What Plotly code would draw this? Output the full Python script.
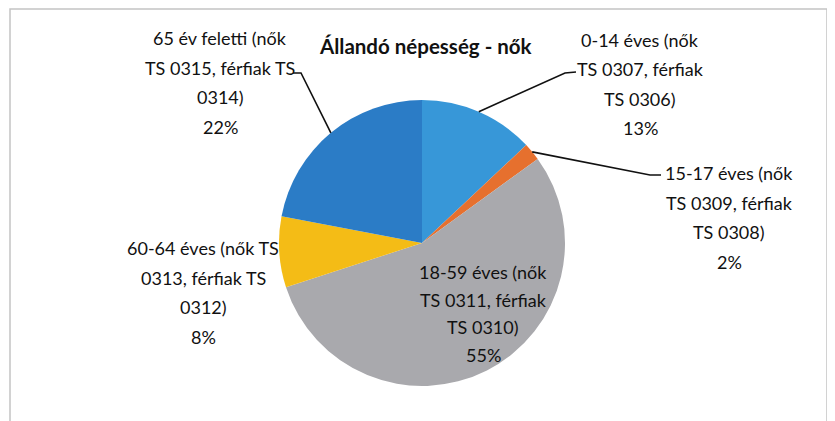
import math
import plotly.graph_objects as go

# ---- data ----
categories = [
    "0-14 éves (nők<br>TS 0307, férfiak<br>TS 0306)",
    "15-17 éves (nők<br>TS 0309, férfiak<br>TS 0308)",
    "18-59 éves (nők<br>TS 0311, férfiak<br>TS 0310)",
    "60-64 éves (nők TS<br>0313, férfiak TS<br>0312)",
    "65 év feletti (nők<br>TS 0315, férfiak TS<br>0314)",
]
values = [13, 2, 55, 8, 22]
colors = ["#3797d8", "#e6702e", "#a9a9ad", "#f4bc16", "#2b7cc6"]
title_text = "Állandó népesség - nők"

# ---- layout helpers (page pixel positions -> paper) ----
W, H = 835, 421
OFF = 8  # page body margin in the browser
FONT = "Lato, Liberation Sans, sans-serif"
cx, cy, r = 422, 243, 143


def px(x):
    return (x - OFF) / W


def py(y):
    return 1 - (y - OFF) / H


# label block: first-line centre (x, y), line spacing, leader-line knee points
label_layout = [
    dict(x=640, y=40, dy=29.3, leader=[(576, 72), (565, 73)]),
    dict(x=729, y=173, dy=29.7, leader=[(661, 175), (650, 175)]),
    dict(x=483, y=272, dy=27.7, leader=None),
    dict(x=203, y=248, dy=29.7, leader=None),
    dict(x=220, y=38, dy=29.7, leader=[(293, 73), (301, 73)]),
]

fig = go.Figure()
fig.add_trace(go.Pie(
    labels=[c.replace("<br>", " ") for c in categories],
    values=values,
    sort=False,
    direction="clockwise",
    rotation=0,
    marker=dict(colors=colors, line=dict(width=0)),
    textinfo="none",
    hoverinfo="label+percent",
    showlegend=False,
    domain=dict(x=[px(cx - r), px(cx + r)], y=[py(cy + r), py(cy - r)]),
))

total = sum(values)
annotations = []
shapes = []
cum = 0
for cat, v, lay in zip(categories, values, label_layout):
    pct = round(v / total * 100)
    lines = cat.split("<br>") + [f"{pct}%"]
    for i, ln in enumerate(lines):
        annotations.append(dict(
            x=px(lay["x"]), y=py(lay["y"] + i * lay["dy"]),
            xref="paper", yref="paper", text=ln, showarrow=False,
            xanchor="center", yanchor="middle",
            font=dict(family=FONT, size=18, color="#111111"),
        ))
    theta = 2 * math.pi * (cum + v / 2) / total
    cum += v
    if lay["leader"]:
        ex = cx + r * math.sin(theta)
        ey = cy - r * math.cos(theta)
        pts = lay["leader"] + [(ex, ey)]
        path = "M " + " L ".join(f"{px(a):.5f},{py(b):.5f}" for a, b in pts)
        shapes.append(dict(type="path", xref="paper", yref="paper", path=path,
                           line=dict(color="#111111", width=1.6)))

annotations.append(dict(
    x=px(425), y=py(46), xref="paper", yref="paper", text=f"<b>{title_text}</b>",
    showarrow=False, xanchor="center", yanchor="middle",
    font=dict(family=FONT, size=20.5, color="#111111"),
))

# chart-area border
shapes.append(dict(type="rect", xref="paper", yref="paper",
                   x0=px(10), x1=px(827), y0=py(440), y1=py(9),
                   line=dict(color="#c4c4c4", width=1.5), fillcolor="rgba(0,0,0,0)"))

fig.update_layout(
    width=W, height=H,
    margin=dict(l=0, r=0, t=0, b=0),
    paper_bgcolor="white", plot_bgcolor="white",
    annotations=annotations, shapes=shapes,
)
fig.write_html("out.html")
